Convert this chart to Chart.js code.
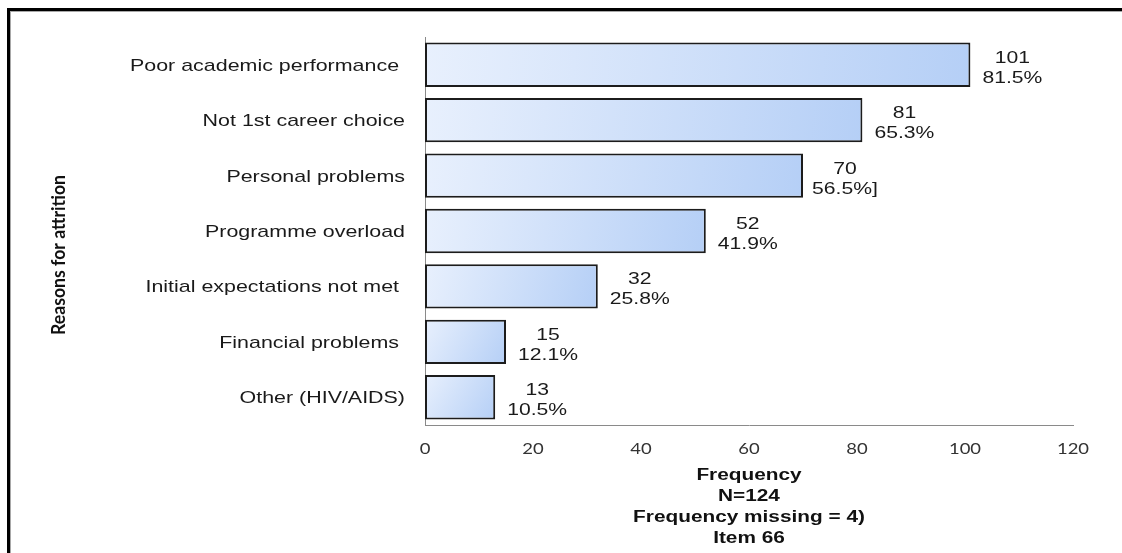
<!DOCTYPE html>
<html>
<head>
<meta charset="utf-8">
<script src="https://cdn.jsdelivr.net/npm/chart.js@4.4.0/dist/chart.umd.min.js"></script>
<style>
  html, body { margin: 0; padding: 0; background: #fff; overflow: hidden; }
  canvas { display: block; }
</style>
</head>
<body>
<canvas id="grafico" width="1122" height="553"></canvas>
<script>
// ---- dados ----
const reasons = [
  "Poor academic performance ",
  "Not 1st career choice",
  "Personal problems",
  "Programme overload",
  "Initial expectations not met ",
  "Financial problems ",
  "Other (HIV/AIDS)"
];
const frequency = [101, 81, 70, 52, 32, 15, 13];
const percentLabels = ["81.5%", "65.3%", "56.5%]", "41.9%", "25.8%", "12.1%", "10.5%"];
const xTicks = [0, 20, 40, 60, 80, 100, 120];
const xTitleLines = ["Frequency", "N=124", "Frequency missing = 4)", "Item 66"];
const yTitle = "Reasons for attrition";

// the source picture is stretched sideways, so text gets a horizontal scale
function stretchText(ctx, text, x, y, sx, sy, align) {
  ctx.save();
  ctx.translate(x, y);
  ctx.scale(sx, sy);
  ctx.textAlign = align;
  ctx.fillText(text, 0, 0);
  ctx.restore();
}

const barPct = 0.8;

function barGradient(c) {
  const chart = c.chart;
  const xs = chart.scales.x, ys = chart.scales.y;
  if (!xs || !ys || c.dataIndex === undefined) return "#cfe0fa";
  const band = Math.abs(ys.getPixelForValue(1) - ys.getPixelForValue(0));
  const yc = ys.getPixelForValue(c.dataIndex);
  const half = band * barPct / 2;
  const x0 = xs.getPixelForValue(0);
  const x1 = xs.getPixelForValue(frequency[c.dataIndex]);
  if (![band, yc, x0, x1].every(Number.isFinite)) return "#cfe0fa";
  const g = chart.ctx.createLinearGradient(x0, yc - half, x1, yc + half);
  g.addColorStop(0, "#e8f0fd");
  g.addColorStop(1, "#b5cff6");
  return g;
}

// outer frame (only top and left edge are visible in the source)
const framePlugin = {
  id: "moldura",
  beforeDraw(chart) {
    const ctx = chart.ctx;
    ctx.save();
    ctx.fillStyle = "#000";
    ctx.fillRect(7, 8, 1122, 3);
    ctx.fillRect(7, 8, 3, 553);
    ctx.fillStyle = "#a8a8a8";
    ctx.fillRect(10, 11, 1122, 1);
    ctx.fillRect(10, 11, 1, 553);
    ctx.restore();
  }
};

const textPlugin = {
  id: "textos",
  afterDraw(chart) {
    const ctx = chart.ctx;
    const xs = chart.scales.x, ys = chart.scales.y;
    const meta = chart.getDatasetMeta(0);
    ctx.save();
    ctx.textBaseline = "alphabetic";

    // category labels
    ctx.fillStyle = "#1a1a1a";
    ctx.font = '17px "Liberation Sans", Arial, sans-serif';
    reasons.forEach((r, i) => {
      const yc = ys.getPixelForValue(i);
      stretchText(ctx, r, 405, yc + 6, 1.26, 1, "right");
    });

    // value labels
    ctx.font = '16px "Liberation Sans", Arial, sans-serif';
    meta.data.forEach((bar, i) => {
      const cx = bar.x + 42;
      stretchText(ctx, String(frequency[i]), cx, bar.y - 2, 1.32, 1, "center");
      stretchText(ctx, percentLabels[i], cx, bar.y + 18, 1.32, 1, "center");
    });

    // x tick labels
    ctx.fillStyle = "#333";
    ctx.font = '15px Lato, "DejaVu Sans", sans-serif';
    xTicks.forEach(t => {
      stretchText(ctx, String(t), xs.getPixelForValue(t), 454, 1.23, 1, "center");
    });

    // x axis title
    ctx.fillStyle = "#111";
    ctx.font = 'bold 16px "Liberation Sans", Arial, sans-serif';
    const cx = (chart.chartArea.left + chart.chartArea.right) / 2;
    xTitleLines.forEach((l, i) => {
      stretchText(ctx, l, cx, 480 + i * 21, 1.3, 1, "center");
    });

    // y axis title (rotated)
    ctx.font = 'bold 15px Lato, "DejaVu Sans", sans-serif';
    const w = ctx.measureText(yTitle).width;
    ctx.save();
    ctx.translate(65, 255);
    ctx.rotate(-Math.PI / 2);
    ctx.scale(160 / w, 1.3);
    ctx.textAlign = "center";
    ctx.fillText(yTitle, 0, 0);
    ctx.restore();

    ctx.restore();
  }
};

new Chart(document.getElementById("grafico"), {
  type: "bar",
  data: {
    labels: reasons,
    datasets: [{
      data: frequency,
      backgroundColor: barGradient,
      borderColor: "#1c1c1c",
      borderWidth: 2,
      borderSkipped: false,
      barPercentage: barPct,
      categoryPercentage: 1
    }]
  },
  options: {
    indexAxis: "y",
    responsive: false,
    animation: false,
    layout: { padding: { left: 425, right: 49, top: 37, bottom: 128 } },
    plugins: {
      legend: { display: false },
      tooltip: { enabled: false }
    },
    scales: {
      x: {
        min: 0, max: 120,
        ticks: { display: false, stepSize: 20 },
        grid: { display: false },
        border: { display: true, color: "#8a8a8a", width: 1 },
        afterFit: s => { s.height = 0; }
      },
      y: {
        ticks: { display: false },
        grid: { display: false },
        border: { display: true, color: "#8a8a8a", width: 1 },
        afterFit: s => { s.width = 0; }
      }
    }
  },
  plugins: [framePlugin, textPlugin]
});
</script>
</body>
</html>
